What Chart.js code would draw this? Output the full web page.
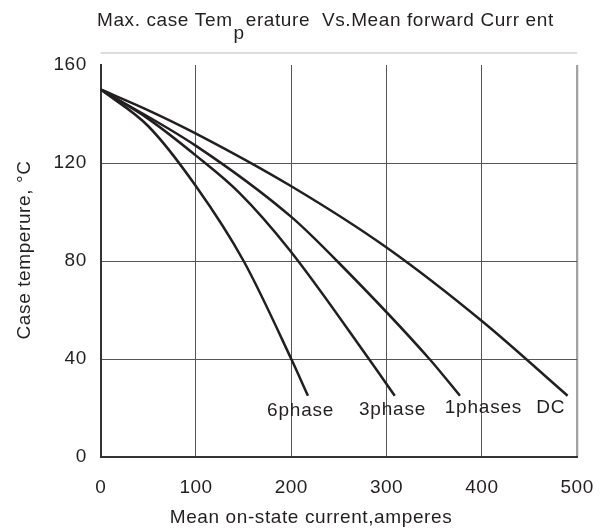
<!DOCTYPE html>
<html>
<head>
<meta charset="utf-8">
<script src="https://cdn.jsdelivr.net/npm/chart.js@4.4.1/dist/chart.umd.min.js"></script>
<style>
  body { margin: 0; background: #fff; }
  #wrap { width: 612px; height: 532px; }
</style>
</head>
<body>
<div id="wrap"><canvas id="chart" width="612" height="532"></canvas></div>
<script>
// curves (x = mean current in A, y = case temperature in C)
const dcX = [0, 50, 100, 200, 300, 400, 490]
const dcY = [150, 141.5, 132, 110.5, 85.5, 55.5, 25]
const onePhaseX = [0, 100, 200, 248, 345, 377]
const onePhaseY = [150, 127, 98, 80, 40, 25]
const threePhaseX = [0, 50, 100, 145, 198, 281.5, 308.6]
const threePhaseY = [150, 138, 123, 108, 84.6, 40, 25]
const sixPhaseX = [0, 50, 100, 150, 200, 217.5]
const sixPhaseY = [150, 135, 110.5, 80, 40, 25]

const xTicks = [0, 100, 200, 300, 400, 500]
const yTicks = [0, 40, 80, 120, 160]

// curve labels, anchored in data units (left edge, baseline)
const labelNames = ["6phase", "3phase", "1phases", "DC"]
const labelX = [174.6, 271, 361, 457]
const labelY = [16.6, 17.3, 18, 18]

const ink = "#231f20"
const fontFamily = "'Liberation Sans', Arial, sans-serif"

function pts(xs, ys) {
    return xs.map((x, i) => ({ x: x, y: ys[i] }))
}

function curve(label, xs, ys) {
    return {
        label: label,
        data: pts(xs, ys),
        borderColor: ink,
        borderWidth: 2.5,
        pointRadius: 0,
        fill: false,
        cubicInterpolationMode: "monotone",
    }
}

const extras = {
    id: "extras",
    beforeDraw(chart) {
        chart.ctx.letterSpacing = "0.5px"
    },
    afterDraw(chart) {
        const ctx = chart.ctx
        const area = chart.chartArea
        const xs = chart.scales.x
        const ys = chart.scales.y
        ctx.save()
        ctx.letterSpacing = "0.6px"
        ctx.fillStyle = ink
        ctx.textBaseline = "alphabetic"
        ctx.textAlign = "left"

        // title, with the stray "p" dropped to a second line
        ctx.font = "19px " + fontFamily
        const t1 = "Max. case Tem"
        const left = 97
        ctx.fillText(t1, left, 26)
        const pX = left + ctx.measureText(t1).width + 1
        ctx.fillText("p", pX, 39)
        const restX = pX + ctx.measureText("p").width + 1
        ctx.fillText("erature  Vs.Mean forward Curr ent", restX, 26)

        // light rule under the title
        ctx.strokeStyle = "#dcdcdc"
        ctx.lineWidth = 2
        ctx.beginPath()
        ctx.moveTo(area.left, area.top - 12)
        ctx.lineTo(area.right, area.top - 12)
        ctx.stroke()

        // axis titles
        ctx.textAlign = "center"
        ctx.textBaseline = "middle"
        ctx.fillText("Mean on-state current,amperes", 311, 518)
        ctx.save()
        ctx.translate(25, 250)
        ctx.rotate(-Math.PI / 2)
        ctx.fillText("Case temperure, \u00B0C", 0, 0)
        ctx.restore()

        // curve labels
        ctx.textAlign = "left"
        ctx.textBaseline = "alphabetic"
        ctx.letterSpacing = "0.8px"
        ctx.font = "19px " + fontFamily
        labelNames.forEach((name, i) => {
            ctx.fillText(name, xs.getPixelForValue(labelX[i]), ys.getPixelForValue(labelY[i]))
        })
        ctx.restore()
    },
}

const tickFont = { family: fontFamily, size: 19 }

const config = {
    type: "line",
    data: {
        datasets: [
            curve("DC", dcX, dcY),
            curve("1phases", onePhaseX, onePhaseY),
            curve("3phase", threePhaseX, threePhaseY),
            curve("6phase", sixPhaseX, sixPhaseY),
        ],
    },
    options: {
        responsive: false,
        animation: false,
        layout: { padding: { top: 65, right: 32, left: 0, bottom: 0 } },
        plugins: { legend: { display: false }, tooltip: { enabled: false } },
        scales: {
            x: {
                type: "linear",
                min: 0,
                max: 500,
                afterBuildTicks: (s) => { s.ticks = xTicks.map((v) => ({ value: v })) },
                afterFit: (s) => { s.height = 75 },
                ticks: { font: tickFont, color: ink, padding: 19, maxRotation: 0 },
                grid: {
                    drawTicks: false,
                    color: (c) => (c.tick.value === 0 ? "rgba(0,0,0,0)" : c.tick.value === 500 ? "#a3a3a3" : "#555"),
                    lineWidth: (c) => (c.tick.value === 500 ? 2.3 : 1),
                },
                border: { color: "#333", width: 2 },
            },
            y: {
                min: 0,
                max: 160,
                afterBuildTicks: (s) => { s.ticks = yTicks.map((v) => ({ value: v })) },
                afterFit: (s) => { s.width = 100.7 },
                ticks: { font: tickFont, color: ink, padding: 14 },
                grid: {
                    drawTicks: false,
                    color: (c) => (c.tick.value === 0 || c.tick.value === 160 ? "rgba(0,0,0,0)" : "#555"),
                    lineWidth: 1,
                },
                border: { color: "#333", width: 2 },
            },
        },
    },
    plugins: [extras],
}

var chartLine = new Chart(document.getElementById("chart"), config)
</script>
</body>
</html>
